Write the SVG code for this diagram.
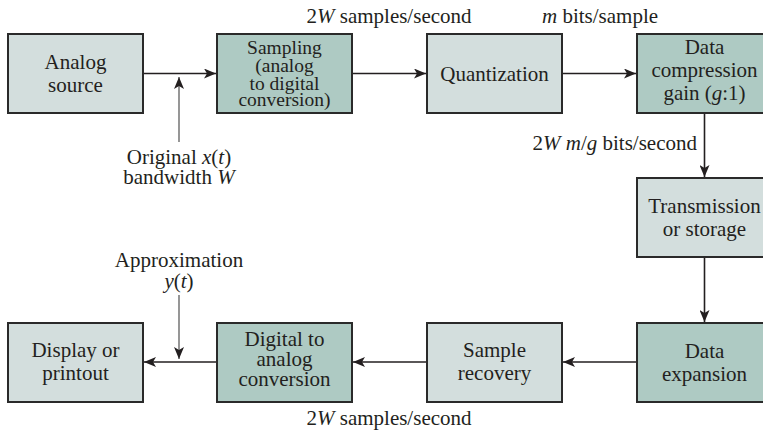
<svg xmlns="http://www.w3.org/2000/svg" width="763" height="432" viewBox="0 0 763 432">
<style>
.box{stroke:#2a2a2a;stroke-width:2}
.lt{fill:#d3dedd}
.dk{fill:#aecac3}
text{font-family:"Liberation Serif","Times New Roman",serif;font-size:21px;fill:#231f20;text-anchor:middle}
.sm{font-size:19.5px}
.ln{stroke:#231f20;stroke-width:1.6;fill:none}
.gr{stroke:#6a6a6a;stroke-width:1.4;fill:none}
</style>
<defs>
<marker id="ah" viewBox="0 0 12 10" refX="12" refY="5" markerWidth="12" markerHeight="10" markerUnits="userSpaceOnUse" orient="auto">
<path d="M0,0 L12,5 L0,10 L3,5 Z" fill="#231f20"/>
</marker>
</defs>
<rect width="763" height="432" fill="#ffffff"/>
<g id="connectors">
<line class="ln" x1="143" y1="73.5" x2="216" y2="73.5" marker-end="url(#ah)"/>
<line class="ln" x1="352" y1="73.5" x2="426" y2="73.5" marker-end="url(#ah)"/>
<line class="ln" x1="562" y1="73.5" x2="636" y2="73.5" marker-end="url(#ah)"/>
<line class="ln" x1="704.5" y1="113" x2="704.5" y2="177" marker-end="url(#ah)"/>
<line class="ln" x1="704.5" y1="257" x2="704.5" y2="322" marker-end="url(#ah)"/>
<line class="ln" x1="637" y1="362" x2="563" y2="362" marker-end="url(#ah)"/>
<line class="ln" x1="427" y1="362" x2="353" y2="362" marker-end="url(#ah)"/>
<line class="ln" x1="217" y1="362" x2="144" y2="362" marker-end="url(#ah)"/>
<line class="gr" x1="179" y1="142" x2="179" y2="77" marker-end="url(#ah)"/>
<line class="gr" x1="179" y1="295" x2="179" y2="359" marker-end="url(#ah)"/>
</g>
<g id="analog-source">
<rect class="box lt" x="8" y="34" width="135" height="79"/>
<text x="75.5" y="69">Analog</text>
<text x="75.5" y="92">source</text>
</g>
<g id="sampling">
<rect class="box dk" x="217" y="34" width="135" height="79"/>
<text class="sm" x="284.5" y="54">Sampling</text>
<text class="sm" x="284.5" y="72">(analog</text>
<text class="sm" x="284.5" y="89.5">to digital</text>
<text class="sm" x="284.5" y="106">conversion)</text>
</g>
<g id="quantization">
<rect class="box lt" x="427" y="34" width="135" height="79"/>
<text x="494.5" y="80.5">Quantization</text>
</g>
<g id="data-compression">
<rect class="box dk" x="637" y="34" width="135" height="79"/>
<text x="704.5" y="54">Data</text>
<text x="704.5" y="77">compression</text>
<text x="704.5" y="100">gain (<tspan font-style="italic">g</tspan>:1)</text>
</g>
<g id="transmission">
<rect class="box lt" x="637" y="178" width="135" height="79"/>
<text x="704.5" y="213">Transmission</text>
<text x="704.5" y="236">or storage</text>
</g>
<g id="data-expansion">
<rect class="box dk" x="637" y="323" width="135" height="79"/>
<text x="704.5" y="358">Data</text>
<text x="704.5" y="381">expansion</text>
</g>
<g id="sample-recovery">
<rect class="box lt" x="427" y="323" width="135" height="79"/>
<text x="494.5" y="357">Sample</text>
<text x="494.5" y="380">recovery</text>
</g>
<g id="digital-to-analog">
<rect class="box dk" x="217" y="323" width="135" height="79"/>
<text x="284.5" y="346">Digital to</text>
<text x="284.5" y="366">analog</text>
<text x="284.5" y="386">conversion</text>
</g>
<g id="display">
<rect class="box lt" x="8" y="323" width="135" height="79"/>
<text x="75.5" y="357">Display or</text>
<text x="75.5" y="380">printout</text>
</g>
<g id="labels">
<text x="389" y="23">2<tspan font-style="italic">W</tspan> samples/second</text>
<text x="600" y="23"><tspan font-style="italic">m</tspan> bits/sample</text>
<text x="697" y="150" style="text-anchor:end">2<tspan font-style="italic">W m</tspan>/<tspan font-style="italic">g</tspan> bits/second</text>
<text x="179" y="164">Original <tspan font-style="italic">x</tspan>(<tspan font-style="italic">t</tspan>)</text>
<text x="179" y="184">bandwidth <tspan font-style="italic">W</tspan></text>
<text x="179" y="267">Approximation</text>
<text x="179" y="288"><tspan font-style="italic">y</tspan>(<tspan font-style="italic">t</tspan>)</text>
<text x="389" y="425">2<tspan font-style="italic">W</tspan> samples/second</text>
</g>
</svg>
